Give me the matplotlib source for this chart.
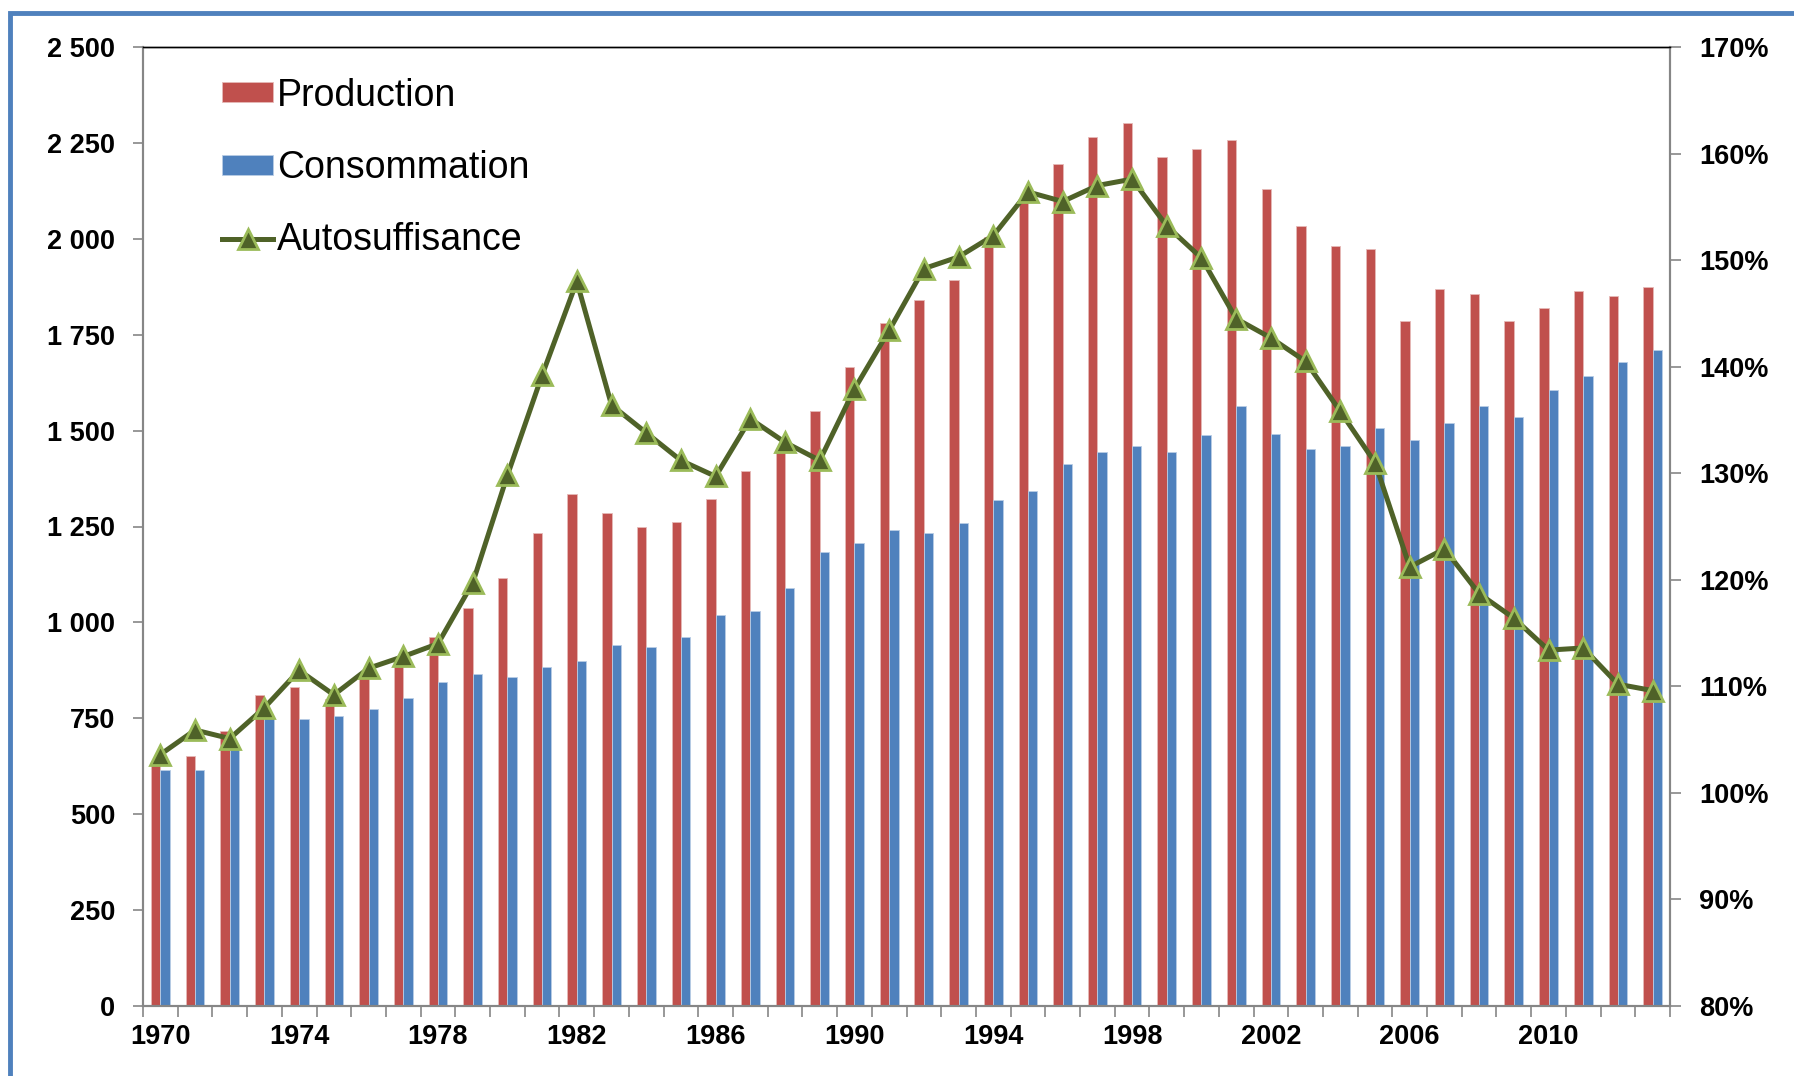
import matplotlib
matplotlib.use("Agg")
import matplotlib.pyplot as plt
import numpy as np
from matplotlib.patches import Rectangle
from matplotlib.ticker import FuncFormatter

# data
years = list(range(1970, 2014))
production = [633, 652, 717, 810, 832, 800, 858, 893, 963, 1037,
              1115, 1233, 1334, 1284, 1249, 1262, 1322, 1394, 1455, 1552,
              1667, 1780, 1840, 1892, 2004, 2105, 2195, 2266, 2301, 2214,
              2233, 2258, 2129, 2034, 1980, 1973, 1786, 1868, 1857, 1786,
              1820, 1865, 1850, 1874]
consommation = [615, 615, 680, 750, 747, 756, 774, 802, 845, 865,
                858, 883, 899, 941, 935, 963, 1019, 1029, 1089, 1184,
                1206, 1242, 1234, 1259, 1318, 1342, 1413, 1445, 1459, 1445,
                1489, 1565, 1492, 1451, 1460, 1508, 1476, 1519, 1565, 1535,
                1606, 1642, 1679, 1710]
autosuffisance = [103.6, 105.9, 105.1, 108.0, 111.5, 109.2, 111.7, 112.8, 114.0, 119.7,
                  129.8, 139.2, 148.0, 136.4, 133.8, 131.2, 129.7, 135.1, 132.9, 131.2,
                  137.9, 143.4, 149.2, 150.3, 152.3, 156.4, 155.5, 157.0, 157.6, 153.2,
                  150.2, 144.5, 142.7, 140.5, 135.8, 131.0, 121.2, 122.9, 118.7, 116.4,
                  113.4, 113.6, 110.2, 109.6]
year_labels = [1970, 1974, 1978, 1982, 1986, 1990, 1994, 1998, 2002, 2006, 2010]

RED = "#C0504D"
BLUE = "#4F81BD"
GREEN = "#4F6228"
LIGHTGREEN = "#9BBB59"
AXISGRAY = "#868686"

plt.rcParams["font.family"] = ["Liberation Sans", "DejaVu Sans"]

fig = plt.figure(figsize=(17.94, 10.76), dpi=100)
ax = fig.add_axes([143 / 1794, 70 / 1076, 1527 / 1794, 959 / 1076])

x = np.arange(len(years))
w = 0.27
ax.bar(x - w / 2, production, w, color=RED, edgecolor="#E6B9B8", linewidth=0.6,
       label="Production", zorder=2)
ax.bar(x + w / 2, consommation, w, color=BLUE, edgecolor="#B9CDE5", linewidth=0.6,
       label="Consommation", zorder=2)

ax.set_xlim(-0.5, len(years) - 0.5)
ax.set_ylim(0, 2500)
ax.set_yticks(np.arange(0, 2501, 250))
ax.yaxis.set_major_formatter(FuncFormatter(lambda v, p: f"{int(v):,}".replace(",", " ")))

# tick marks on category boundaries, labels every 4 years
ax.set_xticks(np.arange(-0.5, len(years), 1.0))
ax.set_xticklabels([])
ax.set_xticks([years.index(y) for y in year_labels], minor=True)
ax.set_xticklabels([str(y) for y in year_labels], minor=True)
ax.tick_params(axis="x", which="major", direction="out", length=8, width=1.2, color=AXISGRAY)
ax.tick_params(axis="x", which="minor", length=0, pad=13, labelsize=19.5)
ax.tick_params(axis="y", direction="out", length=7, width=1.2, color=AXISGRAY,
               pad=13, labelsize=19.5)
for lab in ax.get_xticklabels(minor=True) + ax.get_yticklabels():
    lab.set_fontweight("bold")

ax2 = ax.twinx()
ax2.plot(x, autosuffisance, color=GREEN, linewidth=3.6, marker="^", markersize=14.5,
         markerfacecolor=GREEN, markeredgecolor=LIGHTGREEN, markeredgewidth=2.0,
         label="Autosuffisance", zorder=3)
ax2.set_ylim(80, 170)
ax2.set_yticks(np.arange(80, 171, 10))
ax2.yaxis.set_major_formatter(FuncFormatter(lambda v, p: f"{int(v)}%"))
ax2.tick_params(axis="y", direction="out", length=8, width=1.2, color=AXISGRAY,
                pad=13, labelsize=19.5)
for lab in ax2.get_yticklabels():
    lab.set_fontweight("bold")

for a in (ax, ax2):
    for side in ("left", "right", "bottom"):
        a.spines[side].set_color(AXISGRAY)
        a.spines[side].set_linewidth(1.5)
    a.spines["top"].set_color("black")
    a.spines["top"].set_linewidth(1.0)

h1, l1 = ax.get_legend_handles_labels()
h2, l2 = ax2.get_legend_handles_labels()
ax2.legend(h1 + h2, l1 + l2, loc="upper left", bbox_to_anchor=(0.052, 0.968),
           frameon=False, fontsize=27, handlelength=1.35, handleheight=0.45,
           handletextpad=0.1, labelspacing=0.97, borderpad=0, borderaxespad=0)

# blue outer frame (cropped on right and bottom)
fig.patches.append(Rectangle((10 / 1794, -0.05), 1.2, 1.05 - 13 / 1076,
                             transform=fig.transFigure, fill=False,
                             edgecolor=BLUE, linewidth=3.5))

fig.savefig("out.png", dpi=100)
